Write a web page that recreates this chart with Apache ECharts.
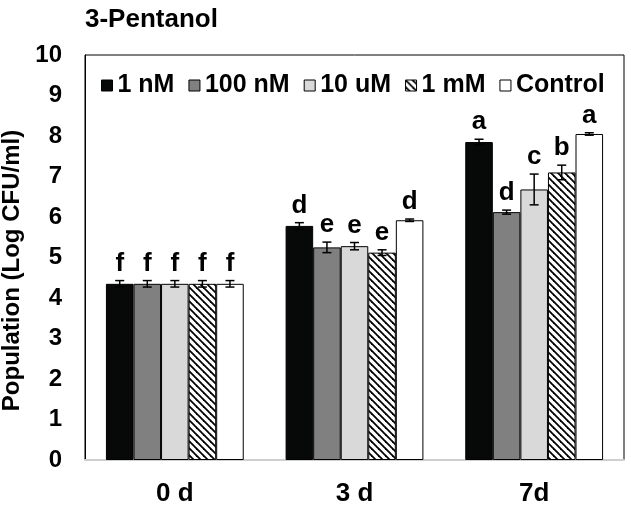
<!DOCTYPE html>
<html><head><meta charset="utf-8">
<script src="https://cdn.jsdelivr.net/npm/echarts@6/dist/echarts.min.js"></script>
<style>html,body{margin:0;padding:0;background:#fff}#c{width:631px;height:507px}</style>
</head><body><div id="c"></div>
<script>
const categories = ['0 d', '3 d', '7d'];
const seriesNames = ['1 nM', '100 nM', '10 uM', '1 mM', 'Control'];
const yTicks = [0,1,2,3,4,5,6,7,8,9,10];
const val1nM    = [4.35, 5.78, 7.85];
const val100nM  = [4.35, 5.25, 6.12];
const val10uM   = [4.35, 5.28, 6.68];
const val1mM    = [4.35, 5.12, 7.10];
const valCtrl   = [4.35, 5.92, 8.05];
const err1nM    = [0.08, 0.08, 0.07];
const err100nM  = [0.08, 0.13, 0.05];
const err10uM   = [0.08, 0.09, 0.38];
const err1mM    = [0.08, 0.07, 0.18];
const errCtrl   = [0.08, 0.03, 0.03];
const let1nM    = ['f', 'd', 'a'];
const let100nM  = ['f', 'e', 'd'];
const let10uM   = ['f', 'e', 'c'];
const let1mM    = ['f', 'e', 'b'];
const letCtrl   = ['f', 'd', 'a'];

const values = [val1nM, val100nM, val10uM, val1mM, valCtrl];
const errors = [err1nM, err100nM, err10uM, err1mM, errCtrl];
const letters = [let1nM, let100nM, let10uM, let1mM, letCtrl];

// hatch pattern
const pc = document.createElement('canvas');
pc.width = 7; pc.height = 7;
const g = pc.getContext('2d');
g.fillStyle = '#fff'; g.fillRect(0,0,7,7);
g.strokeStyle = '#000'; g.lineWidth = 1.8;
[-7,0,7].forEach(k => { g.beginPath(); g.moveTo(k-1,-1); g.lineTo(k+8,8); g.stroke(); });
const fills = ['#070808', '#808080', '#d9d9d9', {image: pc, repeat: 'repeat'}, '#ffffff'];

const FONT = 'Liberation Sans, Arial, sans-serif';
const catGap = 0.233;

const series = [];
seriesNames.forEach((n, s) => {
  series.push({
    name: n, type: 'bar', data: values[s],
    barGap: '0%', barCategoryGap: (catGap*100) + '%',
    itemStyle: {color: fills[s], borderColor: '#000', borderWidth: 1},
    emphasis: {disabled: true}, z: 2
  });
});
seriesNames.forEach((n, s) => {
  series.push({
    name: 'err' + s, type: 'custom', z: 5,
    data: categories.map((c, i) => [i, values[s][i], errors[s][i]]),
    renderItem: function (params, api) {
      const i = api.value(0), v = api.value(1), e = api.value(2);
      const band = api.size([1, 0])[0];
      const bw = band * (1 - catGap) / 5;
      const x = api.coord([i, v])[0] + (s - 2) * bw;
      const yT = api.coord([i, v + e])[1];
      const yB = api.coord([i, v - e])[1];
      const st = {stroke: '#000', lineWidth: 1.5};
      const cw = 4.5;
      return {type: 'group', children: [
        {type: 'line', shape: {x1: x, y1: yT, x2: x, y2: yB}, style: st},
        {type: 'line', shape: {x1: x - cw, y1: yT, x2: x + cw, y2: yT}, style: st},
        {type: 'line', shape: {x1: x - cw, y1: yB, x2: x + cw, y2: yB}, style: st},
        {type: 'text', x: x, y: yT - 4, style: {text: letters[s][params.dataIndex], fill: '#000',
          font: 'bold 26px ' + FONT, textAlign: 'center', textVerticalAlign: 'bottom'}}
      ]};
    }
  });
});

const chart = echarts.init(document.getElementById('c'), null, {renderer: 'canvas'});
chart.setOption({
  animation: false,
  backgroundColor: '#fff',
  title: {text: '3-Pentanol', left: 80, top: 2,
    textStyle: {fontFamily: FONT, fontWeight: 'bold', fontSize: 26, color: '#000'}},
  legend: {data: seriesNames, left: 96, top: 68, icon: 'rect', itemWidth: 11, itemHeight: 11,
    itemGap: 14, textStyle: {fontFamily: FONT, fontWeight: 'bold', fontSize: 25, color: '#000'},
    itemStyle: {borderColor: '#000', borderWidth: 1}},
  grid: {left: 85, right: 7, top: 55, bottom: 47, show: true, borderColor: '#000', borderWidth: 1,
    containLabel: false, outerBoundsMode: 'none'},
  xAxis: {type: 'category', data: categories,
    axisLine: {lineStyle: {color: '#cfcfcf', width: 2}}, axisTick: {show: false},
    axisLabel: {margin: 21, fontFamily: FONT, fontWeight: 'bold', fontSize: 26, color: '#000'}},
  yAxis: {type: 'value', min: yTicks[0], max: yTicks[yTicks.length - 1], interval: 1,
    splitLine: {show: false}, axisTick: {show: false},
    axisLine: {show: true, lineStyle: {color: '#000', width: 1}},
    axisLabel: {margin: 23, fontFamily: FONT, fontWeight: 'bold', fontSize: 24, color: '#000'},
    name: 'Population (Log CFU/ml)', nameLocation: 'middle', nameGap: 49,
    nameTextStyle: {fontFamily: FONT, fontWeight: 'bold', fontSize: 24, color: '#000', padding: [0, 26, 0, 0]}},
  series: series
});
</script>
</body></html>
